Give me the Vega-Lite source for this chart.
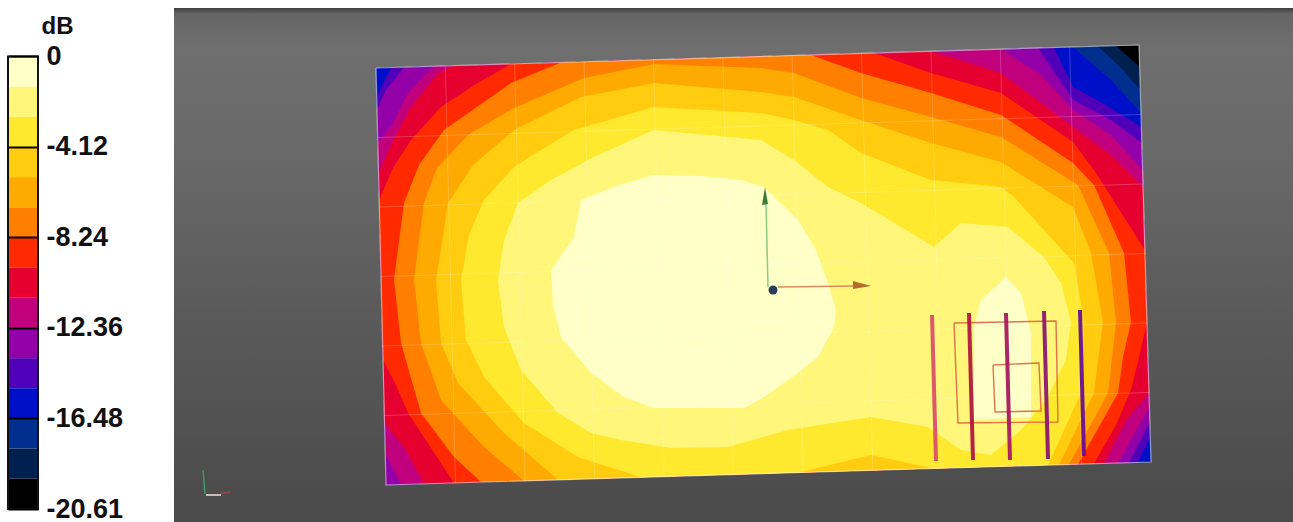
{"$schema":"https://vega.github.io/schema/vega-lite/v6.json","background":"white","padding":{"left":7,"top":8,"right":0,"bottom":0},"bounds":"flush","spacing":136,"config":{"view":{"stroke":null}},
"datasets":{
"bins":[{"band":0,"lo":-1.374,"hi":0},{"band":1,"lo":-2.748,"hi":-1.374},{"band":2,"lo":-4.12,"hi":-2.748},{"band":3,"lo":-5.495,"hi":-4.12},{"band":4,"lo":-6.869,"hi":-5.495},{"band":5,"lo":-8.24,"hi":-6.869},{"band":6,"lo":-9.617,"hi":-8.24},{"band":7,"lo":-10.99,"hi":-9.617},{"band":8,"lo":-12.36,"hi":-10.99},{"band":9,"lo":-13.74,"hi":-12.36},{"band":10,"lo":-15.11,"hi":-13.74},{"band":11,"lo":-16.48,"hi":-15.11},{"band":12,"lo":-17.86,"hi":-16.48},{"band":13,"lo":-19.23,"hi":-17.86},{"band":14,"lo":-20.61,"hi":-19.23}],
"contours":[
{"band":14,"geo":{"type":"Polygon","coordinates":[[[375,68],[1138,45],[1150,462],[385,485],[375,68]]]}},
{"band":13,"geo":{"type":"Polygon","coordinates":[[[375,68],[1115,45.7],[1138.6,67],[1150,462],[385,485],[375,68]]]}},
{"band":12,"geo":{"type":"Polygon","coordinates":[[[375,68],[1097,46.2],[1120,68],[1139.3,90],[1150,462],[385,485],[375,68]]]}},
{"band":11,"geo":{"type":"Polygon","coordinates":[[[375,68],[1072,47],[1110,80],[1140,113],[1150,462],[385,485],[375,68]]]}},
{"band":10,"geo":{"type":"Polygon","coordinates":[[[390,67.5],[1053,47.6],[1072,87],[1105,105],[1140.4,127],[1149.3,437],[1137,462.4],[385,485],[375.7,97],[390,67.5]]]}},
{"band":9,"geo":{"type":"Polygon","coordinates":[[[403,67.2],[1037,48],[1072,100],[1110,120],[1140.8,143],[1148.8,422],[1128,462.7],[385,485],[376,110],[385,90],[403,67.2]]]}},
{"band":8,"geo":{"type":"Polygon","coordinates":[[[433,66.3],[1000,49.2],[1040,75],[1072,110],[1110,135],[1141.6,170],[1148.4,407],[1117,463],[400,484.5],[384.2,453],[376.8,143],[390,127],[407,93],[433,66.3]]]}},
{"band":7,"geo":{"type":"Polygon","coordinates":[[[453,65.6],[930,51.3],[1000,73],[1072,127],[1110,155],[1142.1,187],[1148,393],[1125,420],[1103,463.4],[423,483.9],[403,447],[383.5,423],[377.5,173],[392,140],[410,107],[437,73],[453,65.6]]]}},
{"band":6,"geo":{"type":"Polygon","coordinates":[[[510,63.9],[873,53],[930,73],[1000,93],[1072,142],[1093,170],[1143.9,250],[1146,323],[1138,357],[1130,390],[1115,425],[1093,463.7],[453,483],[407,413],[395,385],[382,360],[378.2,200],[392,168],[410,140],[440,107],[475,84],[510,63.9]]]}},
{"band":5,"geo":{"type":"Polygon","coordinates":[[[560,62.4],[810,54.9],[860,73],[930,93],[1000,115],[1072,163],[1093,185],[1123,253],[1130,322],[1122,357],[1117,393],[1077,464.2],[480,482.1],[453,457],[420,413],[400,343],[393,280],[403,203],[418,165],[443,130],[510,83],[560,62.4]]]}},
{"band":4,"geo":{"type":"Polygon","coordinates":[[[513,108],[583,78],[653,64],[760,68],[793,73],[860,98],[930,117],[1000,137],[1077,185],[1108,253],[1115,322],[1107,393],[1068,464.5],[523,480.9],[483,447],[440,400],[420,343],[413,280],[423,203],[436,168],[467,135],[513,108]]]}},
{"band":3,"geo":{"type":"Polygon","coordinates":[[[513,130],[580,97],[653,83],[760,92],[793,97],[860,120],[930,143],[1000,162],[1072,207],[1090,253],[1102,322],[1093,393],[1058,464.8],[557,479.8],[503,433],[457,383],[440,343],[435,280],[447,203],[472,165],[513,130]]]}},
{"band":2,"geo":{"type":"Polygon","coordinates":[[[483,200],[513,167],[540,150],[573,130],[653,107],[760,113],[793,120],[827,130],[860,153],[930,180],[1000,187],[1013,197],[1073,263],[1083,322],[1080,393],[1047,465.1],[933,468.5],[870,455],[797,472.6],[640,477.3],[577,457],[523,423],[483,377],[465,340],[460,280],[468,235],[483,200]]]}},
{"band":1,"geo":{"type":"Polygon","coordinates":[[[517,203],[550,180],[593,157],[653,130],[760,140],[793,160],[827,187],[860,203],[910,233],[933,247],[960,223],[1007,227],[1043,257],[1060,283],[1070,322],[1065,360],[1045,400],[1020,430],[990,455],[960,450],[927,427],[870,417],[787,430],[727,447],[670,448],[620,440],[590,433],[557,413],[520,370],[503,327],[497,280],[503,240],[517,203]]]}},
{"band":0,"geo":{"type":"MultiPolygon","coordinates":[[[[580,200],[615,186],[653,175],[700,176],[740,180],[763,187],[797,220],[815,250],[827,283],[835,310],[833,327],[817,357],[790,378],[763,397],[743,408],[653,408],[623,397],[590,373],[560,337],[552,305],[550,270],[573,237],[580,200]]],[[[1005,277],[1020,293],[1030,333],[1030,417],[973,420],[973,327],[980,300],[1005,277]]]]}}
],
"mesh":[
{"geo":{"type":"LineString","coordinates":[[444.4,65.9],[454.5,482.9]]}},{"geo":{"type":"LineString","coordinates":[[513.7,63.8],[524.1,480.8]]}},{"geo":{"type":"LineString","coordinates":[[583.1,61.7],[593.6,478.7]]}},{"geo":{"type":"LineString","coordinates":[[652.5,59.6],[663.2,476.6]]}},{"geo":{"type":"LineString","coordinates":[[721.8,57.5],[732.7,474.5]]}},{"geo":{"type":"LineString","coordinates":[[791.2,55.5],[802.3,472.5]]}},{"geo":{"type":"LineString","coordinates":[[860.5,53.4],[871.8,470.4]]}},{"geo":{"type":"LineString","coordinates":[[929.9,51.3],[941.4,468.3]]}},{"geo":{"type":"LineString","coordinates":[[999.3,49.2],[1010.9,466.2]]}},{"geo":{"type":"LineString","coordinates":[[1068.6,47.1],[1080.5,464.1]]}},
{"geo":{"type":"LineString","coordinates":[[376.7,137.5],[1140,114.5]]}},{"geo":{"type":"LineString","coordinates":[[378.3,207],[1142,184]]}},{"geo":{"type":"LineString","coordinates":[[380,276.5],[1144,253.5]]}},{"geo":{"type":"LineString","coordinates":[[381.7,346],[1146,323]]}},{"geo":{"type":"LineString","coordinates":[[383.3,415.5],[1148,392.5]]}}],
"outline":[{"geo":{"type":"LineString","coordinates":[[375,68],[1138,45],[1150,462],[385,485],[375,68]]}}],
"squares":[{"geo":{"type":"LineString","coordinates":[[953,323],[1055,321],[1057,422],[957,423],[953,323]]}},{"geo":{"type":"LineString","coordinates":[[992,365],[1038,363],[1040,411],[994,412],[992,365]]}}],
"sticks":[{"stick":"a","geo":{"type":"LineString","coordinates":[[931,315],[935,461]]}},{"stick":"b","geo":{"type":"LineString","coordinates":[[968,313],[972,460]]}},{"stick":"c","geo":{"type":"LineString","coordinates":[[1005,313],[1009,460]]}},{"stick":"d","geo":{"type":"LineString","coordinates":[[1043,311],[1047,459]]}},{"stick":"e","geo":{"type":"LineString","coordinates":[[1079,310],[1083,456]]}}],
"shafts":[{"axis":"green","geo":{"type":"LineString","coordinates":[[767,287],[765,203]]}},{"axis":"red","geo":{"type":"LineString","coordinates":[[777,287],[853,286]]}},{"axis":"triadGreen","geo":{"type":"LineString","coordinates":[[202,470],[204,494]]}},{"axis":"triadWhite","geo":{"type":"LineString","coordinates":[[205,495],[220,495]]}},{"axis":"triadRed","geo":{"type":"LineString","coordinates":[[220,493],[230,492]]}}],
"heads":[{"axis":"green","geo":{"type":"Polygon","coordinates":[[[764,187],[767,204],[761,205],[764,187]]]}},{"axis":"red","geo":{"type":"Polygon","coordinates":[[[870,286],[852,289],[852,281],[870,286]]]}}],
"dots":[{"lon":772,"lat":290}]
},
"hconcat":[
{"width":30,"height":514,"layer":[
{"data":{"name":"bins"},"mark":{"type":"rect"},"encoding":{
"y":{"field":"lo","type":"quantitative","scale":{"domain":[-21.202,2.209],"nice":false,"zero":false},
"axis":{"orient":"right","values":[0,-4.12,-8.24,-12.36,-16.48,-20.61],"labelExpr":"'' + datum.value","domain":false,"ticks":false,"grid":true,"gridColor":"#000","gridWidth":2,"gridOpacity":1,"zindex":1,"labelFont":"Liberation Sans","labelFontWeight":"bold","labelFontSize":27,"labelColor":"#111","labelPadding":8,"labelOverlap":false,"labelBound":false,"labelFlush":false,"title":"dB","titleAngle":0,"titleFont":"Liberation Sans","titleFontWeight":"bold","titleFontSize":24,"titleColor":"#111","titleX":19,"titleY":25,"titleAlign":"center","titleBaseline":"alphabetic"}},
"y2":{"field":"hi"},
"color":{"field":"band","type":"ordinal","legend":null,"scale":{"domain":[0,1,2,3,4,5,6,7,8,9,10,11,12,13,14],"range":["#ffffc8","#fff67a","#ffe92e","#ffcc10","#ffaa00","#ff7f00","#ff2a00","#e60030","#c0007c","#9400a8","#5000b8","#0010c8","#002f90","#002050","#000000"]}}}},
{"data":{"values":[{"lo":-20.61,"hi":0}]},"mark":{"type":"rect","fillOpacity":0,"stroke":"#111","strokeWidth":2},"encoding":{"y":{"field":"lo","type":"quantitative"},"y2":{"field":"hi"}}}
]},
{"width":1120,"height":514,"view":{"stroke":null,"fill":{"gradient":"linear","x1":0,"y1":0,"x2":0,"y2":1,"stops":[{"offset":0,"color":"#3e3e3e"},{"offset":0.012,"color":"#666666"},{"offset":0.08,"color":"#6f6f6f"},{"offset":0.3,"color":"#686868"},{"offset":0.6,"color":"#5a5a5a"},{"offset":1,"color":"#4a4a4a"}]}},
"projection":{"type":"identity","scale":1,"translate":[-173,-8]},
"resolve":{"scale":{"stroke":"independent","fill":"independent"}},
"layer":[
{"data":{"name":"contours"},"mark":{"type":"geoshape","strokeWidth":0},"encoding":{"shape":{"field":"geo","type":"geojson"},"color":{"field":"band","type":"ordinal","legend":null,"scale":{"domain":[0,1,2,3,4,5,6,7,8,9,10,11,12,13,14],"range":["#ffffc8","#fff67a","#ffe92e","#ffcc10","#ffaa00","#ff7f00","#ff2a00","#e60030","#c0007c","#9400a8","#5000b8","#0010c8","#002f90","#002050","#000000"]}}}},
{"data":{"name":"mesh"},"mark":{"type":"geoshape","filled":false,"stroke":"#ffffff","strokeWidth":1,"strokeOpacity":0.2},"encoding":{"shape":{"field":"geo","type":"geojson"}}},
{"data":{"name":"outline"},"mark":{"type":"geoshape","filled":false,"stroke":"#ffffff","strokeWidth":1.2,"strokeOpacity":0.55},"encoding":{"shape":{"field":"geo","type":"geojson"}}},
{"data":{"name":"squares"},"mark":{"type":"geoshape","filled":false,"stroke":"#dd5a3c","strokeWidth":1.4,"strokeOpacity":0.85},"encoding":{"shape":{"field":"geo","type":"geojson"}}},
{"data":{"name":"sticks"},"mark":{"type":"geoshape","filled":false,"strokeWidth":4,"strokeOpacity":0.95},"encoding":{"shape":{"field":"geo","type":"geojson"},"stroke":{"field":"stick","type":"nominal","legend":null,"scale":{"domain":["a","b","c","d","e"],"range":["#d9506a","#b01840","#a81a60","#8a1870","#6a1090"]}}}},
{"data":{"name":"shafts"},"mark":{"type":"geoshape","filled":false,"strokeWidth":1.5},"encoding":{"shape":{"field":"geo","type":"geojson"},"stroke":{"field":"axis","type":"nominal","legend":null,"scale":{"domain":["green","red","triadGreen","triadWhite","triadRed"],"range":["#8fcb84","#d98a60","#3f9a68","#f0e0e0","#8a4a4a"]}}}},
{"data":{"name":"heads"},"mark":{"type":"geoshape","strokeWidth":0},"encoding":{"shape":{"field":"geo","type":"geojson"},"fill":{"field":"axis","type":"nominal","legend":null,"scale":{"domain":["green","red"],"range":["#3f7a3a","#b46a30"]}}}},
{"data":{"name":"dots"},"mark":{"type":"circle","size":80,"color":"#2c3c5c","opacity":1},"encoding":{"longitude":{"field":"lon","type":"quantitative"},"latitude":{"field":"lat","type":"quantitative"}}}
]}
]}
